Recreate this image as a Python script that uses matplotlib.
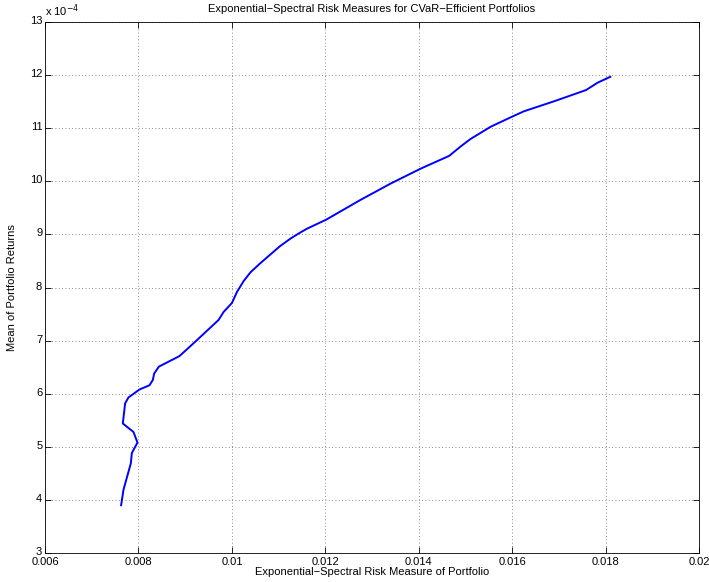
import matplotlib
matplotlib.use("Agg")
import matplotlib.pyplot as plt
import matplotlib.transforms as mtransforms

risk = [0.007629, 0.007679, 0.007837, 0.007858, 0.007893, 0.007979, 0.007893,
        0.007665, 0.007715, 0.007786, 0.008022, 0.008236, 0.008308, 0.008336,
        0.008436, 0.008879, 0.009215, 0.009715, 0.009822, 0.010001, 0.01011,
        0.01025, 0.01040, 0.01061, 0.01082, 0.01103, 0.01125, 0.01145, 0.01161,
        0.01202, 0.01275, 0.0134, 0.01404, 0.01465, 0.01490, 0.01511, 0.01554,
        0.01600, 0.01625, 0.0169, 0.01758, 0.01783, 0.0181]
mean_e4 = [3.90, 4.19, 4.69, 4.88, 4.94, 5.08, 5.28,
           5.44, 5.82, 5.93, 6.08, 6.16, 6.26, 6.38,
           6.51, 6.71, 6.98, 7.39, 7.54, 7.71, 7.92,
           8.12, 8.29, 8.46, 8.62, 8.78, 8.92, 9.03, 9.11,
           9.28, 9.65, 9.96, 10.24, 10.48, 10.66, 10.80, 11.03,
           11.22, 11.32, 11.51, 11.72, 11.86, 11.97]

xticks = [0.006, 0.008, 0.01, 0.012, 0.014, 0.016, 0.018, 0.02]
xticklabels = ["0.006", "0.008", "0.01", "0.012", "0.014", "0.016", "0.018", "0.02"]
yticks = list(range(3, 14))

plt.rcParams['font.family'] = ['Liberation Sans', 'DejaVu Sans']
plt.rcParams['font.size'] = 8

fig = plt.figure(figsize=(7.09, 5.82), dpi=100)
ax = fig.add_axes([0.0635, 0.0498, 0.9225, 0.9122])

ax.plot(risk, mean_e4, color='#0000ff', lw=1.4)

ax.set_xlim(0.006, 0.02)
ax.set_ylim(3, 13)
ax.set_xticks(xticks)
ax.set_xticklabels(xticklabels)
ax.set_yticks(yticks)
ax.tick_params(direction='in', top=True, right=True, length=4, width=0.6,
               labelsize=8, pad=2)
ax.grid(True, linestyle=(0, (1, 3)), color='#666666', lw=0.6)
for s in ax.spines.values():
    s.set_linewidth(0.6)

# lift the y labels a touch so "3" clears "0.006" like in MATLAB
lift = mtransforms.ScaledTranslation(0, 2 / 100, fig.dpi_scale_trans)
for lab in ax.get_yticklabels():
    lab.set_transform(lab.get_transform() + lift)
ax.xaxis.set_tick_params(pad=3)

ax.text(0.0, 1.005, "x 10$^{-4}$", transform=ax.transAxes, fontsize=8,
        ha='left', va='bottom')
ax.set_title("Exponential\u2212Spectral Risk Measures for CVaR\u2212Efficient Portfolios",
             fontsize=8, pad=7)
ax.set_xlabel("Exponential\u2212Spectral Risk Measure of Portfolio", fontsize=8, labelpad=0)
ax.set_ylabel("Mean of Portfolio Returns", fontsize=8, labelpad=9)

fig.savefig("out.png", dpi=100)
